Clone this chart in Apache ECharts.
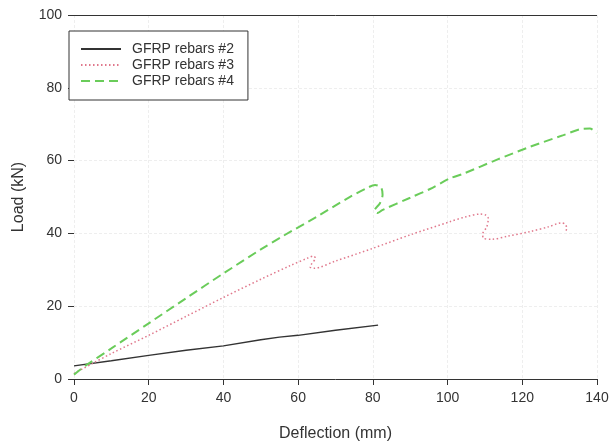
<!DOCTYPE html>
<html>
<head>
<meta charset="utf-8">
<script src="https://cdn.jsdelivr.net/npm/echarts@6/dist/echarts.min.js"></script>
<style>
  html, body { margin: 0; padding: 0; background: #fff; }
  #chart { width: 611px; height: 444px; }
</style>
</head>
<body>
<div id="chart"></div>
<script>
// Load–deflection curves of beams with GFRP rebars
const seriesNames = ['GFRP rebars #2', 'GFRP rebars #3', 'GFRP rebars #4'];

// [deflection (mm), load (kN)]
const rebars2 = [
  [0, 3.6], [10, 5.0], [20, 6.5], [30, 7.9], [40, 9.1], [50, 10.8],
  [55, 11.5], [60, 12.0], [70, 13.4], [81.4, 14.8]
];

const rebars3 = [
  [0, 1.5], [5, 4.3], [10, 7.0], [20, 12.0], [30, 17.2], [40, 22.4],
  [50, 27.4], [58, 31.2], [62.5, 33.2], [64.1, 33.8], [64.6, 33.2],
  [63.6, 31.6], [63.2, 30.8], [64.2, 30.4], [70, 32.4], [80, 35.9],
  [90, 39.6], [100.6, 43.2], [105, 44.6], [108.7, 45.3], [110.3, 45.0],
  [110.9, 44.1], [110.5, 41.8], [109.4, 39.8], [109.6, 38.7], [111.8, 38.4],
  [116, 39.2], [122.1, 40.5], [127, 41.8], [130.5, 42.9], [131.5, 42.5],
  [131.9, 41.4], [131.4, 40.2]
];

const rebars4 = [
  [0, 1.2], [3, 3.6], [10, 8.4], [20, 15.3], [30, 22.2], [40, 29.0],
  [50, 35.6], [56, 39.3], [65, 44.6], [74, 50.1], [78.3, 52.4],
  [80.6, 53.3], [82.2, 52.6], [82.6, 50.6], [81.9, 48.3], [80.4, 46.2],
  [81.2, 45.6], [82.5, 46.4], [90, 49.8], [95.3, 52.2], [100.6, 55.1],
  [104.2, 56.4], [113.1, 60.2], [122.1, 63.8], [131.0, 67.0], [135.4, 68.6],
  [138.1, 68.8], [139.9, 67.5]
];

const xTicks = { min: 0, max: 140, interval: 20 };
const yTicks = { min: 0, max: 100, interval: 20 };

const FONT = '"Liberation Sans", Arial, Helvetica, sans-serif';
const INK = '#333333';

const chart = echarts.init(document.getElementById('chart'), null, { renderer: 'canvas' });

chart.setOption({
  animation: false,
  backgroundColor: '#ffffff',
  textStyle: { fontFamily: FONT },
  grid: { left: 74, right: 14, top: 15, bottom: 65, containLabel: false, outerBoundsMode: 'none' },
  legend: {
    orient: 'vertical',
    left: 69,
    top: 31,
    backgroundColor: '#ffffff',
    borderColor: INK,
    borderWidth: 1,
    borderRadius: 0,
    padding: [10, 14, 11, 11],
    itemWidth: 40,
    itemHeight: 12,
    itemGap: 0,
    // line sample only, no marker on it
    itemStyle: { opacity: 0 },
    textStyle: { fontFamily: FONT, fontSize: 14, lineHeight: 16, color: INK, padding: [0, 0, 0, 6] },
    data: seriesNames
  },
  xAxis: {
    type: 'value',
    min: xTicks.min, max: xTicks.max, interval: xTicks.interval,
    name: 'Deflection (mm)',
    nameLocation: 'middle',
    nameGap: 47,
    nameTextStyle: { fontFamily: FONT, fontSize: 16, color: INK },
    axisLine: { show: true, onZero: false, lineStyle: { color: INK, width: 1 } },
    axisTick: { show: true, length: 6, lineStyle: { color: INK } },
    axisLabel: { fontFamily: FONT, fontSize: 14, color: INK, margin: 12 },
    splitLine: { show: true, lineStyle: { color: '#eeeeee', width: 1, type: [3, 2] } }
  },
  yAxis: {
    type: 'value',
    min: yTicks.min, max: yTicks.max, interval: yTicks.interval,
    name: 'Load (kN)',
    nameLocation: 'middle',
    nameGap: 47,
    nameTextStyle: { fontFamily: FONT, fontSize: 16, color: INK },
    axisLine: { show: false },
    axisTick: { show: true, length: 6, lineStyle: { color: INK } },
    axisLabel: { fontFamily: FONT, fontSize: 14, color: INK, margin: 12 },
    splitLine: { show: true, lineStyle: { color: '#eeeeee', width: 1, type: [3, 2] } }
  },
  series: [
    {
      name: seriesNames[0],
      type: 'line',
      data: rebars2,
      showSymbol: false,
      symbol: 'none',
      smooth: false,
      lineStyle: { color: '#333333', width: 1.4, type: 'solid' },
      itemStyle: { color: '#333333' },
      markLine: {
        silent: true,
        symbol: 'none',
        label: { show: false },
        lineStyle: { color: INK, width: 1, type: 'solid' },
        data: [{ yAxis: 100 }]
      }
    },
    {
      name: seriesNames[1],
      type: 'line',
      data: rebars3,
      showSymbol: false,
      symbol: 'none',
      smooth: 0.3,
      lineStyle: { color: '#e0788c', width: 1.5, type: [1.5, 2.5] },
      itemStyle: { color: '#e0788c' }
    },
    {
      name: seriesNames[2],
      type: 'line',
      data: rebars4,
      showSymbol: false,
      symbol: 'none',
      smooth: 0.3,
      lineStyle: { color: '#6acc5a', width: 2, type: [9, 5] },
      itemStyle: { color: '#6acc5a' }
    }
  ]
});
</script>
</body>
</html>
